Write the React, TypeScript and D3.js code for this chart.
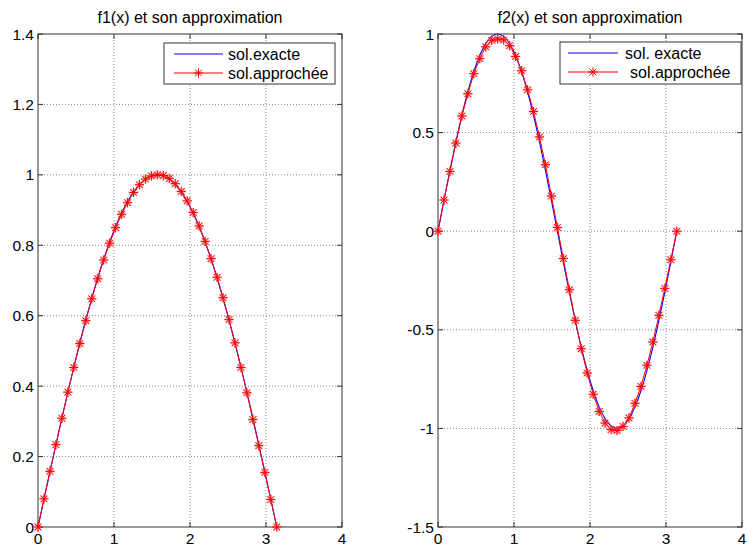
import React from "react";
import * as d3 from "d3";

// Sample abscissae on [0, pi]
const X = [
  0, 0.0785, 0.1571, 0.2356, 0.3142, 0.3927, 0.4712, 0.5498, 0.6283, 0.7069,
  0.7854, 0.8639, 0.9425, 1.021, 1.0996, 1.1781, 1.2566, 1.3352, 1.4137, 1.4923,
  1.5708, 1.6493, 1.7279, 1.8064, 1.885, 1.9635, 2.042, 2.1206, 2.1991, 2.2777,
  2.3562, 2.4347, 2.5133, 2.5918, 2.6704, 2.7489, 2.8274, 2.906, 2.9845, 3.0631,
  3.1416,
];

// f1: exact solution and numerical approximation
const F1_EXACT = [
  0, 0.0785, 0.1564, 0.2334, 0.309, 0.3827, 0.454, 0.5225, 0.5878, 0.6494,
  0.7071, 0.7604, 0.809, 0.8526, 0.891, 0.9239, 0.9511, 0.9724, 0.9877, 0.9969,
  1.0, 0.9969, 0.9877, 0.9724, 0.9511, 0.9239, 0.891, 0.8526, 0.809, 0.7604,
  0.7071, 0.6494, 0.5878, 0.5225, 0.454, 0.3827, 0.309, 0.2334, 0.1564, 0.0785,
  0,
];
const F1_APPROX = [
  0, 0.08, 0.158, 0.234, 0.309, 0.383, 0.453, 0.521, 0.586, 0.648,
  0.705, 0.758, 0.806, 0.85, 0.888, 0.921, 0.95, 0.972, 0.988, 0.997,
  1.0, 0.998, 0.99, 0.975, 0.953, 0.926, 0.893, 0.855, 0.811, 0.762,
  0.709, 0.651, 0.589, 0.523, 0.453, 0.381, 0.305, 0.231, 0.155, 0.078,
  0,
];

// f2: exact solution and numerical approximation
const F2_EXACT = [
  0, 0.1564, 0.309, 0.454, 0.5878, 0.7071, 0.809, 0.891, 0.9511, 0.9877,
  1.0, 0.9877, 0.9511, 0.891, 0.809, 0.7071, 0.5878, 0.454, 0.309, 0.1564,
  0, -0.1564, -0.309, -0.454, -0.5878, -0.7071, -0.809, -0.891, -0.9511, -0.9877,
  -1.0, -0.9877, -0.9511, -0.891, -0.809, -0.7071, -0.5878, -0.454, -0.309, -0.1564,
  0,
];
const F2_APPROX = [
  0, 0.158, 0.303, 0.447, 0.584, 0.697, 0.799, 0.875, 0.935, 0.968,
  0.975, 0.97, 0.941, 0.886, 0.814, 0.717, 0.607, 0.478, 0.337, 0.178,
  0.019, -0.139, -0.297, -0.452, -0.596, -0.719, -0.827, -0.914, -0.973, -1.006,
  -1.011, -0.99, -0.947, -0.873, -0.787, -0.68, -0.562, -0.427, -0.29, -0.145,
  0,
];

const X_TICKS = [0, 1, 2, 3, 4];
const Y1_TICKS = [0, 0.2, 0.4, 0.6, 0.8, 1, 1.2, 1.4];
const Y2_TICKS = [-1.5, -1, -0.5, 0, 0.5, 1];

const FONT = "'Liberation Sans', Arial, Helvetica, sans-serif";
const AXIS_COLOR = "#333";
const GRID_COLOR = "#8a8a8a";

function star(cx: number, cy: number, r = 4.6) {
  const d = r * 0.72;
  return `M${cx - r},${cy}h${2 * r}M${cx},${cy - r}v${2 * r}` +
    `M${cx - d},${cy - d}l${2 * d},${2 * d}M${cx - d},${cy + d}l${2 * d},${-2 * d}`;
}

type PanelProps = {
  left: number;
  width: number;
  top: number;
  height: number;
  title: string;
  yDomain: [number, number];
  yTicks: number[];
  exact: number[];
  approx: number[];
  legendBox: [number, number, number, number];
  legendLine: [number, number];
  legendText: [string, number, string, number];
};

function Panel(p: PanelProps) {
  const x = d3.scaleLinear().domain([0, 4]).range([p.left, p.left + p.width]);
  const y = d3.scaleLinear().domain(p.yDomain).range([p.top + p.height, p.top]);
  const bottom = p.top + p.height;
  const right = p.left + p.width;
  const tl = 5;

  const exactLine = d3
    .line<number>()
    .x((_, i) => x(X[i]))
    .y((v) => y(v))
    .curve(d3.curveNatural)(p.exact) as string;
  const approxLine = d3
    .line<number>()
    .x((_, i) => x(X[i]))
    .y((v) => y(v))(p.approx) as string;

  const [bx0, by0, bx1, by1] = p.legendBox;
  const [lx0, lx1] = p.legendLine;
  const row1 = by0 + 11;
  const row2 = by0 + 30;
  const markers = p.approx.map((v, i) => star(x(X[i]), y(v))).join("");

  return (
    <g>
      {/* grid */}
      {X_TICKS.filter((t) => t > 0 && t < 4).map((t) => (
        <line key={"gx" + t} x1={x(t)} x2={x(t)} y1={p.top} y2={bottom}
          stroke={GRID_COLOR} strokeWidth={1} strokeDasharray="1 2" />
      ))}
      {p.yTicks.filter((t) => t > p.yDomain[0] && t < p.yDomain[1]).map((t) => (
        <line key={"gy" + t} x1={p.left} x2={right} y1={y(t)} y2={y(t)}
          stroke={GRID_COLOR} strokeWidth={1} strokeDasharray="1 2" />
      ))}

      {/* frame and inward ticks */}
      <rect x={p.left} y={p.top} width={p.width} height={p.height}
        fill="none" stroke={AXIS_COLOR} strokeWidth={1} />
      {X_TICKS.map((t) => (
        <g key={"tx" + t}>
          <line x1={x(t)} x2={x(t)} y1={bottom} y2={bottom - tl} stroke={AXIS_COLOR} />
          <line x1={x(t)} x2={x(t)} y1={p.top} y2={p.top + tl} stroke={AXIS_COLOR} />
          <text x={x(t)} y={bottom + 17} textAnchor="middle" fontSize={15.5}
            fontFamily={FONT} fill="#000">{t}</text>
        </g>
      ))}
      {p.yTicks.map((t) => (
        <g key={"ty" + t}>
          <line x1={p.left} x2={p.left + tl} y1={y(t)} y2={y(t)} stroke={AXIS_COLOR} />
          <line x1={right} x2={right - tl} y1={y(t)} y2={y(t)} stroke={AXIS_COLOR} />
          <text x={p.left - 4} y={y(t)} dy="0.36em" textAnchor="end" fontSize={15.5}
            fontFamily={FONT} fill="#000">{t}</text>
        </g>
      ))}

      {/* curves */}
      <path d={exactLine} fill="none" stroke="#0000ff" strokeWidth={1.1} />
      <path d={approxLine} fill="none" stroke="#ff0000" strokeWidth={1} />
      <path d={markers} fill="none" stroke="#ff6666" strokeWidth={2} strokeOpacity={0.45} />
      <path d={markers} fill="none" stroke="#ff0000" strokeWidth={1} />

      {/* title */}
      <text x={p.left + p.width / 2} y={p.top - 11} textAnchor="middle"
        fontSize={16} fontFamily={FONT} fill="#000">{p.title}</text>

      {/* legend */}
      <rect x={bx0} y={by0} width={bx1 - bx0} height={by1 - by0}
        fill="#fff" stroke={AXIS_COLOR} strokeWidth={1} />
      <line x1={lx0} x2={lx1} y1={row1} y2={row1} stroke="#0000ff" strokeWidth={1} />
      <line x1={lx0} x2={lx1} y1={row2} y2={row2} stroke="#ff0000" strokeWidth={1} />
      <path d={star((lx0 + lx1) / 2, row2)} fill="none" stroke="#ff0000" strokeWidth={1} />
      <text x={p.legendText[1]} y={row1 + 5.5} fontSize={16} fontFamily={FONT} fill="#000">
        {p.legendText[0]}
      </text>
      <text x={p.legendText[3]} y={row2 + 5.5} fontSize={16} fontFamily={FONT} fill="#000">
        {p.legendText[2]}
      </text>
    </g>
  );
}

export default function App() {
  return (
    <svg width={747} height={547}
      style={{ position: "absolute", left: 0, top: 0, display: "block", background: "#fff" }}>
      <rect width={747} height={547} fill="#fff" />
      <Panel left={38} width={304} top={34} height={493}
        title="f1(x) et son approximation" yDomain={[0, 1.4]} yTicks={Y1_TICKS}
        exact={F1_EXACT} approx={F1_APPROX}
        legendBox={[164, 43, 335, 84]} legendLine={[174, 223]}
        legendText={["sol.exacte", 228, "sol.approchée", 228]} />
      <Panel left={438} width={304} top={34} height={493}
        title="f2(x) et son approximation" yDomain={[-1.5, 1]} yTicks={Y2_TICKS}
        exact={F2_EXACT} approx={F2_APPROX}
        legendBox={[560, 42, 741, 84]} legendLine={[568, 618]}
        legendText={["sol. exacte", 625, "sol.approchée", 630]} />
    </svg>
  );
}
